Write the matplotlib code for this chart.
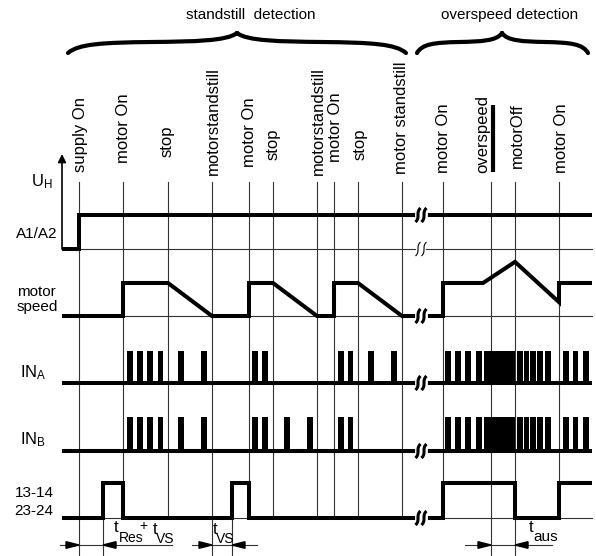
import matplotlib.pyplot as plt
import numpy as np
from matplotlib.path import Path
from matplotlib.patches import PathPatch, Polygon

plt.rcParams['font.family'] = ['Liberation Sans', 'DejaVu Sans']
plt.rcParams['mathtext.fontset'] = 'custom'
plt.rcParams['mathtext.rm'] = 'Liberation Sans'

# --- data: event times (x) and their labels
events = [79, 123, 168, 212, 249, 273, 317, 334, 358, 402, 443, 491, 515, 559]
event_labels = ['supply On', 'motor On', 'stop', 'motorstandstill', 'motor On', 'stop',
                'motorstandstill', 'motor On', 'stop', 'motor standstill', 'motor On',
                'overspeed', 'motorOff', 'motor On']
# events whose line runs down to the dimension arrows
long_events = [79, 212, 491, 515]
dim_ticks = [103, 232]

# signals (time, level)
a12_t = [62, 79, 79, 592]
a12_v = [0, 0, 1, 1]
speed_t = [62, 123, 123, 168, 212, 249, 249, 273, 317, 334, 334, 358, 402, 443, 443, 483, 515, 559, 559, 592]
speed_v = [0, 0, 1, 1, 0, 0, 1, 1, 0, 0, 1, 1, 0, 0, 1, 1, 1.64, 0.42, 1, 1]
out_t = [62, 103, 103, 123, 123, 232, 232, 249, 249, 443, 443, 515, 515, 559, 559, 592]
out_v = [0, 0, 1, 1, 0, 0, 1, 1, 0, 0, 1, 1, 0, 0, 1, 1]

ina_pulses = [130, 140, 150, 160.5, 181, 204, 255, 265, 341, 350.5, 371, 394,
              448, 458, 468, 479, 520, 526.5, 533, 540, 548, 566, 575.5, 586]
inb_pulses = [130, 140, 150, 160.5, 181, 204, 255, 265, 287, 310, 341, 350.5,
              448, 458, 468, 479, 520, 526.5, 533, 540, 548, 566, 575.5, 586]
burst = (484, 515)  # overspeed: dense pulses

# dimension arrows: (left tick, right tick, left end, right end)
dims = [(79, 103, 60, 172), (212, 232, 192, 257), (491, 515, 465, 552)]

t_end = 592
t_break = 421

# --- layout (pixel-like coordinates)
Y_TOP = 182
Y_A12, AMP_A12 = 249, 34
Y_SPD, AMP_SPD = 316, 33
Y_INA, H_INA = 383, 32
Y_INB, H_INB = 451, 34
Y_OUT, AMP_OUT = 518, 35
Y_DIM = 545
THICK = 2.9
THIN = 0.8
GREY = '#333333'

fig = plt.figure(figsize=(5.96, 5.56), dpi=100)
ax = fig.add_axes([0, 0, 1, 1])
ax.set_xlim(0, 596)
ax.set_ylim(556, 0)
ax.axis('off')

# vertical event lines
for x in events:
    bottom = 555 if x in long_events else Y_OUT
    ax.plot([x, x], [Y_TOP, bottom], color=GREY, lw=THIN, zorder=1)
for x in dim_ticks:
    ax.plot([x, x], [Y_OUT, 555], color=GREY, lw=THIN, zorder=1)

# thin baselines
for y in [Y_A12, Y_SPD, Y_OUT]:
    ax.plot([62, t_end], [y, y], color=GREY, lw=THIN, zorder=1)

# U_H axis arrow
ax.annotate('', xy=(62, 154), xytext=(62, Y_A12),
            arrowprops=dict(arrowstyle='-|>', color='black', lw=1.2,
                            mutation_scale=12, shrinkA=0, shrinkB=0))

kw = dict(color='black', lw=THICK, solid_joinstyle='miter', solid_capstyle='butt', zorder=3)
ax.plot(a12_t, [Y_A12 - AMP_A12 * v for v in a12_v], **kw)
ax.plot(speed_t, [Y_SPD - AMP_SPD * v for v in speed_v], **kw)
ax.plot(out_t, [Y_OUT - AMP_OUT * v for v in out_v], **kw)

# IN_A / IN_B baselines and pulses
for base, h, pulses in [(Y_INA, H_INA, ina_pulses), (Y_INB, H_INB, inb_pulses)]:
    ax.plot([62, t_end], [base, base], **kw)
    ax.bar(pulses, -h, width=5.5, bottom=base, color='black', lw=0, zorder=3)
    ax.bar((burst[0] + burst[1]) / 2, -h, width=burst[1] - burst[0], bottom=base,
           color='black', lw=0, zorder=3)

# break marks
s = np.linspace(-1, 1, 40)
for y, lw in [(Y_A12 - AMP_A12, THICK), (Y_A12, THIN), (Y_SPD, THICK),
              (Y_INA, THICK), (Y_INB, THICK), (Y_OUT, THICK)]:
    ax.plot([t_break - 3, t_break + 3], [y, y], color='white', lw=lw + 2, zorder=4)
    for dx in (-3, 3):
        ax.plot(t_break + dx - 2.5 * s ** 3, y + 7 * s,
                color='black', lw=min(lw, 2.2), zorder=5, solid_capstyle='butt')

# dimension arrows
for lt, rt, le, re in dims:
    ax.plot([le, re], [Y_DIM, Y_DIM], color=GREY, lw=THIN, zorder=2)
    ax.add_patch(Polygon([[lt, Y_DIM], [lt - 13, Y_DIM - 3.3], [lt - 13, Y_DIM + 3.3]],
                         closed=True, color='black', zorder=3))
    ax.add_patch(Polygon([[rt, Y_DIM], [rt + 13, Y_DIM - 3.3], [rt + 13, Y_DIM + 3.3]],
                         closed=True, color='black', zorder=3))

# event labels (rotated)
label_x = [80, 123, 167, 213, 250, 273, 318, 335, 360, 402, 443, 483, 517, 562]
label_bottom = [172, 163, 157, 175, 167, 160, 175, 162, 160, 174, 173, 173, 168, 173]
for lbl, x, yb in zip(event_labels, label_x, label_bottom):
    ax.text(x, yb, lbl, rotation=90, ha='center', va='bottom', fontsize=12)
ax.plot([493, 493], [105, 172], color='black', lw=3, solid_capstyle='butt')

# braces
def brace(x0, x1, xm, ye=53, ya=42, yt=33):
    verts, codes = [], []
    for a, sgn in [(x0, 1), (x1, -1)]:
        w = abs(xm - a)
        pts = [(a, ye), (a + sgn * 0.06 * w, ya + 2), (a + sgn * 0.2 * w, ya + 0.5),
               (a + sgn * 0.5 * w, ya), (xm - sgn * 0.25 * w, ya - 0.5),
               (xm - sgn * 0.06 * w, ya - 1), (xm, yt)]
        verts += pts
        codes += [Path.MOVETO] + [Path.CURVE4] * 6
    ax.add_patch(PathPatch(Path(verts, codes), fill=False, lw=3, capstyle='round'))

brace(68, 406, 237)
brace(417, 588, 502)
ax.text(251, 15, 'standstill  detection', ha='center', va='center', fontsize=11)
ax.text(510, 15, 'overspeed detection', ha='center', va='center', fontsize=11)

# row labels
ax.text(42, 182, r'$\mathregular{U_H}$', ha='center', va='center', fontsize=12)
ax.text(57, 234, 'A1/A2', ha='right', va='center', fontsize=11)
ax.text(36, 292, 'motor', ha='center', va='center', fontsize=11)
ax.text(37, 307, 'speed', ha='center', va='center', fontsize=11)
ax.text(33, 373, r'$\mathregular{IN_A}$', ha='center', va='center', fontsize=12)
ax.text(33, 440, r'$\mathregular{IN_B}$', ha='center', va='center', fontsize=12)
ax.text(34, 493, '13-14', ha='center', va='center', fontsize=11)
ax.text(34, 511, '23-24', ha='center', va='center', fontsize=11)

# time labels
ax.text(116, 528, 't', ha='center', va='center', fontsize=12)
ax.text(131, 538, 'Res', ha='center', va='center', fontsize=10)
ax.text(143, 526, '+', ha='center', va='center', fontsize=10)
ax.text(155, 529, 't', ha='center', va='center', fontsize=12)
ax.text(165, 539, 'VS', ha='center', va='center', fontsize=10)
ax.text(215, 529, 't', ha='center', va='center', fontsize=12)
ax.text(225, 539, 'VS', ha='center', va='center', fontsize=10)
ax.text(531, 528, 't', ha='center', va='center', fontsize=12)
ax.text(546, 537, 'aus', ha='center', va='center', fontsize=11)

fig.savefig('out.png', dpi=100)
